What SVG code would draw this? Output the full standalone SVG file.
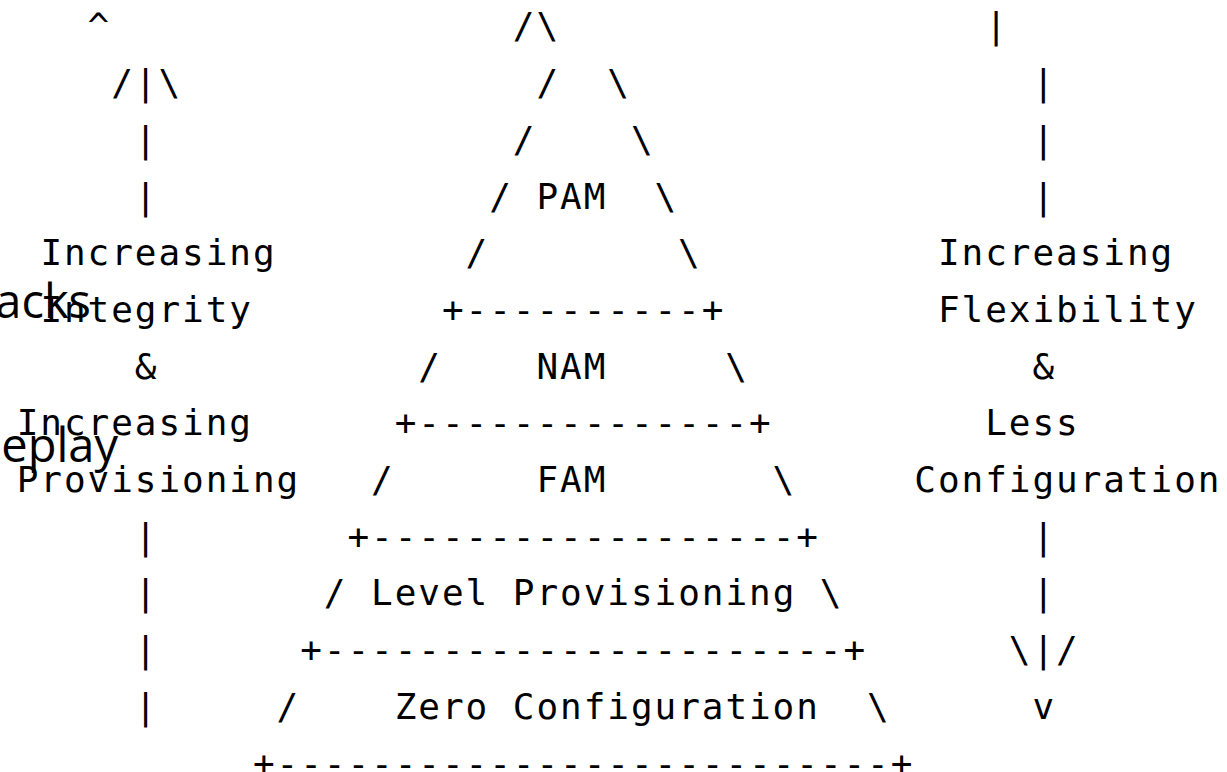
<svg xmlns="http://www.w3.org/2000/svg" width="1227" height="772" viewBox="0 0 1227 772">
<style>
.m{font-family:"DejaVu Sans Mono","Liberation Mono",monospace;font-size:36px;letter-spacing:1.948px;fill:#000;white-space:pre}
.p{font-family:"Open Sans","Noto Sans",sans-serif;font-size:47px;fill:#000;text-anchor:end}
</style>
<rect width="1227" height="772" fill="#fff"/>
<g id="left-axis">
<text class="m" x="87.62" y="38.4">^</text>
<text class="m" x="111.24" y="95.1">/|\</text>
<text class="m" x="134.86" y="151.8">|</text>
<text class="m" x="134.86" y="208.5">|</text>
<text class="m" x="40.38" y="265.2">Increasing</text>
<text class="m" x="40.38" y="321.9">Integrity</text>
<text class="m" x="134.86" y="378.6">&amp;</text>
<text class="m" x="16.76" y="435.3">Increasing</text>
<text class="m" x="16.76" y="492.0">Provisioning</text>
<text class="m" x="134.86" y="548.7">|</text>
<text class="m" x="134.86" y="605.4">|</text>
<text class="m" x="134.86" y="662.1">|</text>
<text class="m" x="134.86" y="718.8">|</text>
</g>
<g id="pyramid">
<g id="pam">
<text class="m" x="512.78" y="38.4">/\</text>
<text class="m" x="536.40" y="95.1">/</text>
<text class="m" x="607.26" y="95.1">\</text>
<text class="m" x="512.78" y="151.8">/</text>
<text class="m" x="630.88" y="151.8">\</text>
<text class="m" x="489.16" y="208.5">/</text>
<text class="m" x="536.40" y="208.5">PAM</text>
<text class="m" x="654.50" y="208.5">\</text>
<text class="m" x="465.54" y="265.2">/</text>
<text class="m" x="678.12" y="265.2">\</text>
<text class="m" x="441.92" y="321.9">+----------+</text>
</g>
<g id="nam">
<text class="m" x="418.30" y="378.6">/</text>
<text class="m" x="536.40" y="378.6">NAM</text>
<text class="m" x="725.36" y="378.6">\</text>
<text class="m" x="394.68" y="435.3">+--------------+</text>
</g>
<g id="fam">
<text class="m" x="371.06" y="492.0">/</text>
<text class="m" x="536.40" y="492.0">FAM</text>
<text class="m" x="772.60" y="492.0">\</text>
<text class="m" x="347.44" y="548.7">+------------------+</text>
</g>
<g id="level-provisioning">
<text class="m" x="323.82" y="605.4">/ Level Provisioning \</text>
<text class="m" x="300.20" y="662.1">+----------------------+</text>
</g>
<g id="zero-configuration">
<text class="m" x="276.58" y="718.8">/</text>
<text class="m" x="394.68" y="718.8">Zero Configuration</text>
<text class="m" x="867.08" y="718.8">\</text>
<text class="m" x="252.96" y="775.5">+--------------------------+</text>
</g>
</g>
<g id="right-axis">
<text class="m" x="985.18" y="38.4">|</text>
<text class="m" x="1032.42" y="95.1">|</text>
<text class="m" x="1032.42" y="151.8">|</text>
<text class="m" x="1032.42" y="208.5">|</text>
<text class="m" x="937.94" y="265.2">Increasing</text>
<text class="m" x="937.94" y="321.9">Flexibility</text>
<text class="m" x="1032.42" y="378.6">&amp;</text>
<text class="m" x="985.18" y="435.3">Less</text>
<text class="m" x="914.32" y="492.0">Configuration</text>
<text class="m" x="1032.42" y="548.7">|</text>
<text class="m" x="1032.42" y="605.4">|</text>
<text class="m" x="1008.80" y="662.1">\|/</text>
<text class="m" x="1032.42" y="718.8">v</text>
</g>
<g id="overlapping-labels">
<text class="p" x="91" y="318">acks</text>
<text class="p" x="118" y="462">eplay</text>
</g>
</svg>
